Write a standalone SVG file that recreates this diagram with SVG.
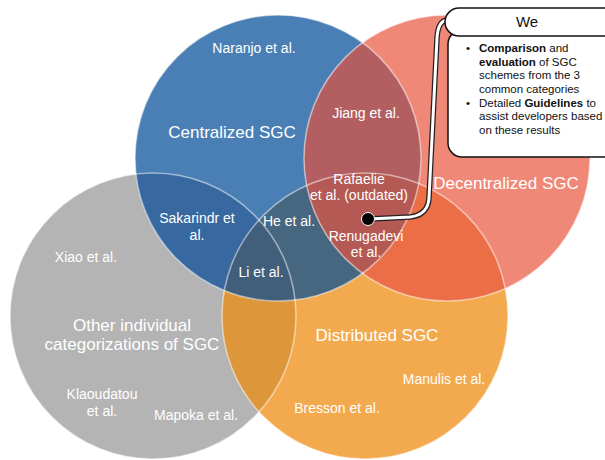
<svg xmlns="http://www.w3.org/2000/svg" width="605" height="460" viewBox="0 0 605 460">
<style>
.lbl{font-family:"Liberation Sans",Arial,sans-serif;fill:#fff;text-anchor:middle}
.s{font-size:14px}
.b{font-size:17px}
.edge{fill:none;stroke:#fff;stroke-opacity:0.5;stroke-width:1.5}
.box{fill:#fff;stroke:#111;stroke-width:1.5}
.bt{font-family:"Liberation Sans",Arial,sans-serif;font-size:11.5px;fill:#111}
</style>
<defs>
<clipPath id="cB"><circle cx="278" cy="158" r="143"/></clipPath>
<clipPath id="cR"><circle cx="447" cy="158" r="143"/></clipPath>
<clipPath id="cG"><circle cx="153" cy="316" r="143"/></clipPath>
<clipPath id="cO"><circle cx="365" cy="316" r="143"/></clipPath>
</defs>
<rect width="605" height="460" fill="#fff"/>
<g id="sets">
<circle id="other" cx="153" cy="316" r="143" fill="#b4b4b4"/>
<circle id="distributed" cx="365" cy="316" r="143" fill="#f3aa4f"/>
<circle id="centralized" cx="278" cy="158" r="143" fill="#4a7fb5"/>
<circle id="decentralized" cx="447" cy="158" r="143" fill="#f08878"/>
<circle cx="365" cy="316" r="143" fill="#de963a" clip-path="url(#cG)"/>
<circle cx="278" cy="158" r="143" fill="#3868a0" clip-path="url(#cG)"/>
<circle cx="278" cy="158" r="143" fill="#47667f" clip-path="url(#cO)"/>
<g clip-path="url(#cG)"><circle cx="278" cy="158" r="143" fill="#415e7b" clip-path="url(#cO)"/></g>
<circle cx="447" cy="158" r="143" fill="#ec6e47" clip-path="url(#cO)"/>
<circle cx="447" cy="158" r="143" fill="#b35f62" clip-path="url(#cB)"/>
<g clip-path="url(#cO)"><circle cx="447" cy="158" r="143" fill="#b45953" clip-path="url(#cB)"/></g>
<circle class="edge" cx="153" cy="316" r="143"/>
<circle class="edge" cx="365" cy="316" r="143"/>
<circle class="edge" cx="278" cy="158" r="143"/>
<circle class="edge" cx="447" cy="158" r="143"/>
</g>
<g id="labels">
<text class="lbl b" x="232" y="138">Centralized SGC</text>
<text class="lbl b" x="506" y="189">Decentralized SGC</text>
<text class="lbl b" x="377" y="341">Distributed SGC</text>
<text class="lbl b" x="132" y="331">Other individual</text>
<text class="lbl b" x="132" y="350">categorizations of SGC</text>
<text class="lbl s" x="254" y="53">Naranjo et al.</text>
<text class="lbl s" x="366" y="118">Jiang et al.</text>
<text class="lbl s" x="359" y="184">Rafaelie</text>
<text class="lbl s" x="359" y="200">et al. (outdated)</text>
<text class="lbl s" x="197" y="223">Sakarindr et</text>
<text class="lbl s" x="197" y="240">al.</text>
<text class="lbl s" x="289" y="226">He et al.</text>
<text class="lbl s" x="366" y="241">Renugadevi</text>
<text class="lbl s" x="366" y="257">et al.</text>
<text class="lbl s" x="261" y="277">Li et al.</text>
<text class="lbl s" x="86" y="262">Xiao et al.</text>
<text class="lbl s" x="102" y="399">Klaoudatou</text>
<text class="lbl s" x="102" y="416">et al.</text>
<text class="lbl s" x="196" y="420">Mapoka et al.</text>
<text class="lbl s" x="444" y="384">Manulis et al.</text>
<text class="lbl s" x="337" y="413">Bresson et al.</text>
</g>
<g id="connectors">
<path d="M369 219 L410 217 Q428 215 429 198 L437 38 Q438 21 447 20" fill="none" stroke="#222" stroke-width="5.5" stroke-linecap="round"/>
<path d="M369 219 L410 217 Q428 215 429 198 L437 38 Q438 21 447 20" fill="none" stroke="#fff" stroke-width="3" stroke-linecap="round"/>
<circle cx="368" cy="219" r="6.5" fill="#000" stroke="#fff" stroke-width="1"/>
</g>
<g id="we-box">
<rect class="box" x="448" y="30" width="170" height="127" rx="14"/>
<rect class="box" x="445" y="8" width="175" height="28" rx="14"/>
<text x="527" y="27" font-family="Liberation Sans, Arial, sans-serif" font-size="15" fill="#111" text-anchor="middle">We</text>
<g class="bt">
<text x="466" y="52">•</text>
<text x="479" y="52"><tspan font-weight="bold">Comparison</tspan> and</text>
<text x="479" y="65.5"><tspan font-weight="bold">evaluation</tspan> of SGC</text>
<text x="479" y="79">schemes from the 3</text>
<text x="479" y="92.5">common categories</text>
<text x="466" y="106.5">•</text>
<text x="479" y="106.5">Detailed <tspan font-weight="bold">Guidelines</tspan> to</text>
<text x="479" y="120">assist developers based</text>
<text x="479" y="133.5">on these results</text>
</g>
</g>
</svg>
